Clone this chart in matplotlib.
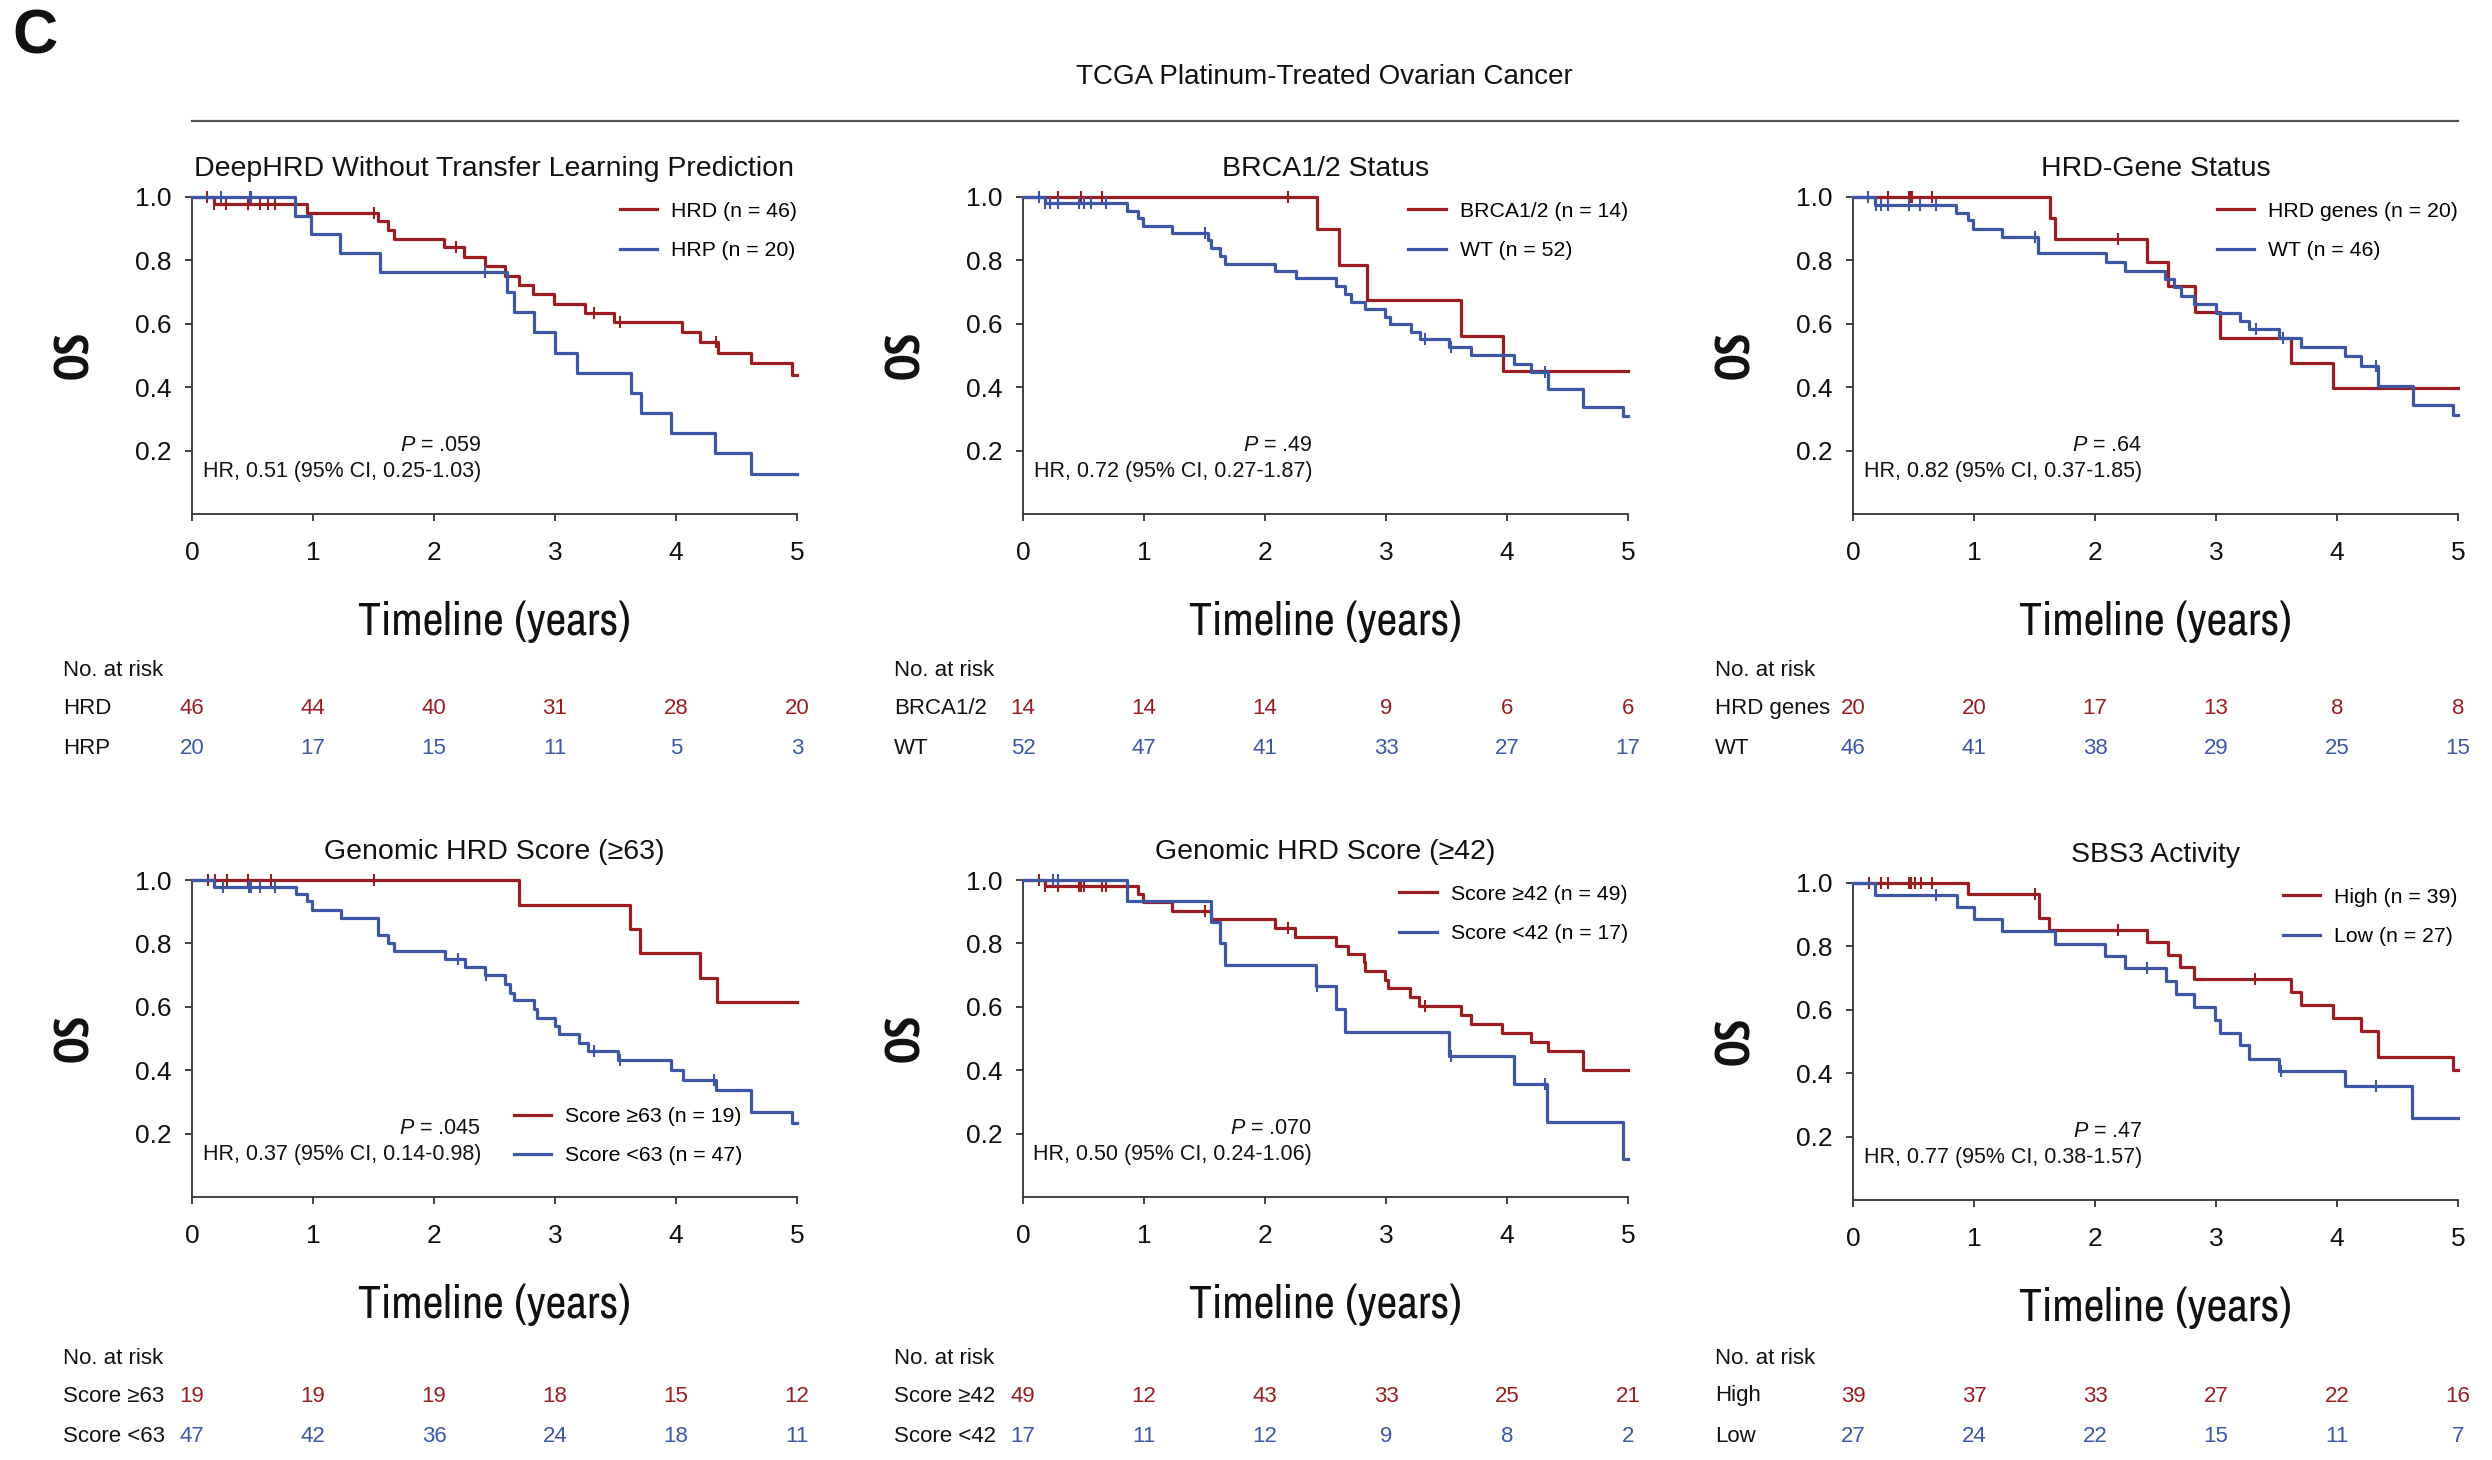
# Kaplan-Meier overall survival panels, TCGA platinum-treated ovarian cancer
# six panels (2 x 3), each with its own number-at-risk table underneath

import numpy as np
import matplotlib.pyplot as plt
from matplotlib.lines import Line2D
from matplotlib import font_manager
from matplotlib.font_manager import FontProperties

# ---- data ----
years = [0, 1, 2, 3, 4, 5]
y_ticks = [0.2, 0.4, 0.6, 0.8, 1.0]

titles = ['DeepHRD Without Transfer Learning Prediction', 'BRCA1/2 Status', 'HRD-Gene Status',
          'Genomic HRD Score (≥63)', 'Genomic HRD Score (≥42)', 'SBS3 Activity']
group_names = [('HRD', 'HRP'), ('BRCA1/2', 'WT'), ('HRD genes', 'WT'),
               ('Score ≥63', 'Score <63'), ('Score ≥42', 'Score <42'), ('High', 'Low')]
group_sizes = [(46, 20), (14, 52), (20, 46), (19, 47), (49, 17), (39, 27)]
p_values = ['.059', '.49', '.64', '.045', '.070', '.47']
hr_texts = ['HR, 0.51 (95% CI, 0.25-1.03)', 'HR, 0.72 (95% CI, 0.27-1.87)', 'HR, 0.82 (95% CI, 0.37-1.85)',
            'HR, 0.37 (95% CI, 0.14-0.98)', 'HR, 0.50 (95% CI, 0.24-1.06)', 'HR, 0.77 (95% CI, 0.38-1.57)']

# at-risk counts at 0..5 years (red group, blue group)
risk_red = [[46, 44, 40, 31, 28, 20], [14, 14, 14, 9, 6, 6], [20, 20, 17, 13, 8, 8],
            [19, 19, 19, 18, 15, 12], [49, 12, 43, 33, 25, 21], [39, 37, 33, 27, 22, 16]]
risk_blue = [[20, 17, 15, 11, 5, 3], [52, 47, 41, 33, 27, 17], [46, 41, 38, 29, 25, 15],
             [47, 42, 36, 24, 18, 11], [17, 11, 12, 9, 8, 2], [27, 24, 22, 15, 11, 7]]

# event times (t), survival after each event (s), censor times (c)
p1_red_t = [0.18, 0.95, 1.54, 1.62, 1.67, 2.08, 2.25, 2.42, 2.59, 2.70, 2.82, 2.99, 3.25, 3.49, 4.05, 4.20, 4.35, 4.62, 4.96]
p1_red_s = [0.978, 0.951, 0.925, 0.897, 0.869, 0.841, 0.811, 0.781, 0.752, 0.722, 0.693, 0.664, 0.635, 0.606, 0.575, 0.543, 0.509, 0.475, 0.44]
p1_red_c = [0.12, 0.18, 0.28, 0.46, 0.56, 0.63, 0.69, 1.50, 2.18, 3.32, 3.54, 4.33]
p1_blue_t = [0.85, 0.98, 1.22, 1.55, 2.60, 2.66, 2.83, 3.00, 3.18, 3.63, 3.71, 3.96, 4.32, 4.62]
p1_blue_s = [0.941, 0.882, 0.823, 0.764, 0.699, 0.636, 0.573, 0.509, 0.446, 0.382, 0.319, 0.255, 0.191, 0.127]
p1_blue_c = [0.24, 0.48, 0.49, 2.42]

p2_red_t = [2.43, 2.61, 2.84, 3.62, 3.97]
p2_red_s = [0.90, 0.787, 0.675, 0.562, 0.45]
p2_red_c = [0.29, 0.48, 0.65, 2.19]
p2_blue_t = [0.18, 0.86, 0.95, 0.99, 1.23, 1.53, 1.55, 1.63, 1.67, 2.08, 2.26, 2.59, 2.66, 2.71, 2.83, 2.99, 3.03,
             3.21, 3.28, 3.52, 3.70, 4.06, 4.20, 4.34, 4.63, 4.96]
p2_blue_s = [0.981, 0.957, 0.933, 0.910, 0.886, 0.863, 0.839, 0.815, 0.790, 0.767, 0.743, 0.718, 0.694, 0.670, 0.647,
             0.623, 0.600, 0.575, 0.551, 0.526, 0.500, 0.473, 0.447, 0.393, 0.337, 0.309]
p2_blue_c = [0.13, 0.18, 0.22, 0.29, 0.46, 0.50, 0.56, 0.69, 1.50, 3.32, 3.54, 4.31]

p3_red_t = [1.63, 1.67, 2.43, 2.60, 2.83, 3.03, 3.62, 3.97]
p3_red_s = [0.933, 0.866, 0.794, 0.718, 0.638, 0.556, 0.476, 0.397]
p3_red_c = [0.29, 0.46, 0.48, 0.49, 0.65, 2.19]
p3_blue_t = [0.18, 0.85, 0.95, 0.99, 1.23, 1.53, 2.09, 2.25, 2.58, 2.65, 2.71, 2.82, 3.00, 3.20, 3.27, 3.52, 3.70,
             4.07, 4.20, 4.34, 4.63, 4.96]
p3_blue_s = [0.976, 0.951, 0.926, 0.900, 0.874, 0.822, 0.795, 0.768, 0.742, 0.715, 0.688, 0.662, 0.635, 0.609, 0.584,
             0.556, 0.526, 0.497, 0.466, 0.405, 0.343, 0.311]
p3_blue_c = [0.12, 0.19, 0.23, 0.29, 0.46, 0.55, 0.69, 1.50, 3.33, 3.55, 4.32]

p4_red_t = [2.70, 3.62, 3.70, 4.20, 4.34]
p4_red_s = [0.922, 0.846, 0.769, 0.692, 0.615]
p4_red_c = [0.13, 0.19, 0.29, 0.46, 0.65, 1.50]
p4_blue_t = [0.18, 0.86, 0.95, 0.99, 1.23, 1.54, 1.62, 1.67, 2.09, 2.26, 2.42, 2.59, 2.63, 2.66, 2.83, 2.85, 3.00,
             3.03, 3.20, 3.27, 3.52, 3.96, 4.06, 4.33, 4.62, 4.96]
p4_blue_s = [0.979, 0.957, 0.933, 0.906, 0.879, 0.827, 0.802, 0.777, 0.752, 0.726, 0.700, 0.671, 0.645, 0.621, 0.593,
             0.566, 0.538, 0.513, 0.486, 0.459, 0.432, 0.400, 0.369, 0.336, 0.268, 0.235]
p4_blue_c = [0.26, 0.47, 0.49, 0.56, 0.69, 2.20, 2.43, 3.32, 3.54, 4.31]

p5_red_t = [0.18, 0.95, 0.99, 1.23, 1.55, 2.08, 2.25, 2.59, 2.69, 2.82, 2.83, 2.99, 3.02, 3.20, 3.27, 3.62, 3.70,
            3.96, 4.20, 4.34, 4.63]
p5_red_s = [0.980, 0.956, 0.930, 0.903, 0.876, 0.849, 0.821, 0.792, 0.766, 0.740, 0.712, 0.685, 0.659, 0.631, 0.603,
            0.575, 0.546, 0.517, 0.488, 0.460, 0.402]
p5_red_c = [0.13, 0.18, 0.29, 0.46, 0.48, 0.50, 0.65, 0.69, 1.50, 2.19, 3.32]
p5_blue_t = [0.86, 1.55, 1.63, 1.67, 2.42, 2.59, 2.66, 3.52, 4.06, 4.33, 4.96]
p5_blue_s = [0.933, 0.867, 0.800, 0.733, 0.667, 0.594, 0.519, 0.445, 0.356, 0.237, 0.119]
p5_blue_c = [0.25, 0.29, 2.43, 3.54, 4.31]

p6_red_t = [0.95, 1.54, 1.62, 2.43, 2.60, 2.70, 2.82, 3.62, 3.70, 3.97, 4.20, 4.34, 4.96]
p6_red_s = [0.964, 0.889, 0.852, 0.814, 0.774, 0.736, 0.698, 0.656, 0.615, 0.575, 0.532, 0.450, 0.409]
p6_red_c = [0.13, 0.23, 0.29, 0.46, 0.48, 0.51, 0.56, 0.65, 1.50, 2.19, 3.32]
p6_blue_t = [0.18, 0.86, 1.00, 1.23, 1.67, 2.08, 2.25, 2.59, 2.67, 2.82, 2.99, 3.03, 3.20, 3.27, 3.52, 4.07, 4.62]
p6_blue_s = [0.962, 0.923, 0.885, 0.848, 0.808, 0.769, 0.731, 0.691, 0.650, 0.610, 0.569, 0.528, 0.488, 0.446,
             0.407, 0.360, 0.258]
p6_blue_c = [0.69, 2.43, 3.54, 4.32]

curves = [
    ((p1_red_t, p1_red_s, p1_red_c), (p1_blue_t, p1_blue_s, p1_blue_c)),
    ((p2_red_t, p2_red_s, p2_red_c), (p2_blue_t, p2_blue_s, p2_blue_c)),
    ((p3_red_t, p3_red_s, p3_red_c), (p3_blue_t, p3_blue_s, p3_blue_c)),
    ((p4_red_t, p4_red_s, p4_red_c), (p4_blue_t, p4_blue_s, p4_blue_c)),
    ((p5_red_t, p5_red_s, p5_red_c), (p5_blue_t, p5_blue_s, p5_blue_c)),
    ((p6_red_t, p6_red_s, p6_red_c), (p6_blue_t, p6_blue_s, p6_blue_c)),
]

RED = '#9b1d22'
BLUE = '#3d57a6'
INK = '#111111'

plt.rcParams['font.family'] = ['Liberation Sans', 'DejaVu Sans']
plt.rcParams['mathtext.fontset'] = 'custom'
plt.rcParams['mathtext.it'] = 'Liberation Sans:italic'
plt.rcParams['mathtext.rm'] = 'Liberation Sans'


def find_narrow(bold):
    '''
    Look for an installed narrow / condensed face, None if there is none
    '''
    found = []
    for f in font_manager.fontManager.ttflist:
        name = f.name.lower()
        narrow = 'narrow' in name or 'condensed' in name or f.stretch in ('condensed', 'semi-condensed')
        w = f.weight
        is_bold = w == 'bold' or (isinstance(w, int) and w >= 600)
        if narrow and is_bold == bold and f.style == 'normal':
            # Helvetica-like narrow faces first
            rank = 0 if 'narrow' in name else 1 if 'roboto' in name else 2
            found.append((rank, f.fname))
    if not found:
        return None
    return FontProperties(fname=sorted(found)[0][1])


narrow_reg = find_narrow(False) or FontProperties(family='Liberation Sans')
narrow_bold = find_narrow(True) or FontProperties(family='Liberation Sans', weight='bold')


def fit_size(fig, text, target_px, axis=0):
    '''
    Rescale a text so its rendered extent matches the target (pixels)
    '''
    renderer = fig.canvas.get_renderer()
    bb = text.get_window_extent(renderer)
    size = bb.width if axis == 0 else bb.height
    text.set_fontsize(text.get_fontsize() * target_px / size)


def draw_curve(ax, t, s, c, color, label):
    '''
    Draw one KM step curve with its censor ticks
    '''
    x = np.r_[0, t, 5]
    y = np.r_[1, s, s[-1]]
    ax.plot(x, y, drawstyle='steps-post', color=color, lw=2.3, clip_on=False, label=label, zorder=3)
    # censored patients sit on the curve level at their time
    idx = np.searchsorted(t, c, side='right')
    yc = np.r_[1, s][idx]
    ax.plot(c, yc, ls='none', marker='|', ms=9, mew=1.5, color=color, clip_on=False, zorder=3)


def risk_table(ax, names, red_counts, blue_counts, x_off, y_off):
    '''
    Number-at-risk rows under the axes, offsets in pixels
    '''
    ax.annotate('No. at risk', xy=(0, 0), xycoords='axes fraction', xytext=(x_off, y_off[0]),
                textcoords='offset pixels', ha='left', va='center', fontsize=16, color=INK)
    for row_y, name, counts, color in [(y_off[1], names[0], red_counts, RED), (y_off[2], names[1], blue_counts, BLUE)]:
        ax.annotate(name, xy=(0, 0), xycoords='axes fraction', xytext=(x_off, row_y),
                    textcoords='offset pixels', ha='left', va='center', fontsize=16, color=INK)
        for yr, n in zip(years, counts):
            ax.annotate(str(n), xy=(yr, 0), xycoords=('data', 'axes fraction'), xytext=(0, row_y),
                        textcoords='offset pixels', ha='center', va='center', fontsize=16, color=color)


fig = plt.figure(figsize=(24.92, 14.60), dpi=100)

W, H = 2492, 1460
lefts = [192, 1023, 1853]
tops = [197, 197, 197, 880, 880, 883]
ax_w, ax_h = 605, 317
table_x = [-129, -129, -138]
table_y = [(-157, -195, -235), (-161, -199, -239)]
table_dy = [0, 0, 0, 0, 0, 3]

fig.text(12 / W, 1 - 8 / H, 'C', fontsize=45, fontweight='bold', ha='left', va='top', color=INK)
fig.text(1324 / W, 1 - 77 / H, 'TCGA Platinum-Treated Ovarian Cancer', fontsize=20, ha='center', va='center', color=INK)
fig.add_artist(Line2D([192 / W, 2458 / W], [1 - 121 / H, 1 - 121 / H], color='#555555', lw=1.6))

xlabels, os_labels = [], []
for i in range(6):
    row, col = divmod(i, 3)
    ax = fig.add_axes([lefts[col] / W, 1 - (tops[i] + ax_h) / H, ax_w / W, ax_h / H])
    (rt, rs, rc), (bt, bs, bc) = curves[i]
    n_red, n_blue = group_sizes[i]
    draw_curve(ax, rt, rs, rc, RED, f'{group_names[i][0]} (n = {n_red})')
    draw_curve(ax, bt, bs, bc, BLUE, f'{group_names[i][1]} (n = {n_blue})')

    ax.set_xlim(0, 5)
    ax.set_ylim(0, 1)
    ax.set_xticks(years)
    ax.set_yticks(y_ticks)
    ax.set_yticklabels([f'{v:.1f}' for v in y_ticks])
    for side in ['top', 'right']:
        ax.spines[side].set_visible(False)
    for side in ['left', 'bottom']:
        ax.spines[side].set_linewidth(1.3)
        ax.spines[side].set_color('#333333')
    ax.tick_params(axis='both', direction='out', length=5, width=1.3, colors='#333333', labelsize=19, labelcolor=INK)
    ax.tick_params(axis='x', pad=14.5)
    ax.tick_params(axis='y', pad=10)

    ax.annotate(titles[i], xy=(0.5, 1), xycoords='axes fraction', xytext=(0, 28), textcoords='offset pixels',
                ha='center', va='center', fontsize=20.5, color=INK)
    xlabels.append(ax.annotate('Timeline (years)', xy=(0.5, 0), xycoords='axes fraction', xytext=(0, -108),
                               textcoords='offset pixels', ha='center', va='center', fontproperties=narrow_reg,
                               fontsize=30, color=INK))
    os_labels.append(ax.text(-116 / ax_w, 0.5, 'OS', transform=ax.transAxes, rotation=90, ha='center', va='center',
                             fontproperties=narrow_bold, fontsize=30, color=INK))

    # statistics
    ax.text(2.39, 0.215, f'$\\it{{P}}$ = {p_values[i]}', ha='right', va='center', fontsize=15.5, color=INK)
    ax.text(2.39, 0.135, hr_texts[i], ha='right', va='center', fontsize=15.5, color=INK)

    leg_kw = dict(frameon=False, fontsize=15.3, handlelength=1.75, handletextpad=0.67,
                  labelspacing=0.95, borderaxespad=0, borderpad=0)
    if i == 3:
        ax.legend(loc='lower right', bbox_to_anchor=(0.91, 0.10), **leg_kw)
    else:
        ax.legend(loc='upper right', bbox_to_anchor=(1.0, 0.985), **leg_kw)

    dy = table_dy[i]
    risk_table(ax, group_names[i], risk_red[i], risk_blue[i], table_x[col], [v + dy for v in table_y[row]])

# the axis titles use a condensed face; scale them to the printed width
for t in xlabels:
    fit_size(fig, t, 273, axis=0)
for t in os_labels:
    fit_size(fig, t, 48, axis=1)

fig.savefig('out.png', dpi=100)
